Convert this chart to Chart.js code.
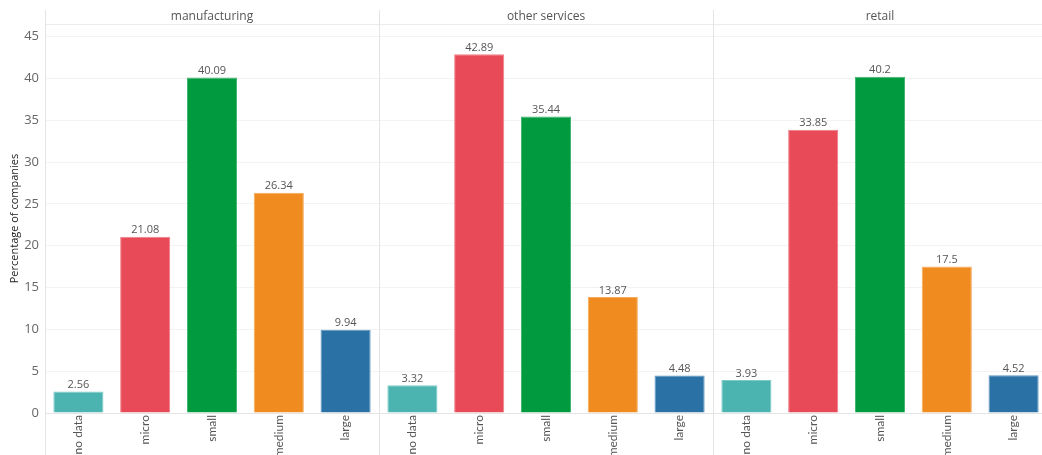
<!DOCTYPE html>
<html>
<head>
<meta charset="utf-8">
<script src="https://cdn.jsdelivr.net/npm/chart.js@4/dist/chart.umd.min.js"></script>
<style>
html,body{margin:0;padding:0;background:#fff;overflow:hidden;}
#wrap{position:relative;width:1050px;height:455px;}
</style>
</head>
<body>
<div id="wrap"><canvas id="c"></canvas></div>
<script>
// ---- data ----
const sizeCategories = ["no data", "micro", "small", "medium", "large"];
const sectors = ["manufacturing", "other services", "retail"];
const manufacturing = [2.56, 21.08, 40.09, 26.34, 9.94];
const otherServices = [3.32, 42.89, 35.44, 13.87, 4.48];
const retail = [3.93, 33.85, 40.2, 17.5, 4.52];
const yTicks = [0, 5, 10, 15, 20, 25, 30, 35, 40, 45];

// ---- styles ----
const sizeColors = ["#4bb4b0", "#e84b57", "#029a3e", "#f08b1f", "#2a72a6"];
const sizeBorders = ["#7ccbc7", "#f07d86", "#3cb56a", "#f5aa5a", "#5a95c0"];

const seriesBySector = [manufacturing, otherServices, retail];
const labels = [], values = [], colors = [], borders = [];
seriesBySector.forEach(s => s.forEach((v, i) => {
  labels.push(sizeCategories[i]); values.push(v);
  colors.push(sizeColors[i]); borders.push(sizeBorders[i]);
}));

const FONT = "'Open Sans', 'DejaVu Sans', sans-serif";

const panelPlugin = {
  id: 'panels',
  beforeDatasetsDraw(chart) {
    const ctx = chart.ctx, ca = chart.chartArea, xs = chart.scales.x;
    ctx.save();
    ctx.strokeStyle = '#ececec'; ctx.lineWidth = 1;
    ctx.beginPath(); ctx.moveTo(ca.left, ca.top + 0.5); ctx.lineTo(ca.right, ca.top + 0.5); ctx.stroke();
    ctx.strokeStyle = '#e4e4e4';
    [-0.5, 4.5, 9.5].forEach(v => {
      const x = Math.round(xs.getPixelForValue(v)) + 0.5;
      ctx.beginPath(); ctx.moveTo(x, 10); ctx.lineTo(x, chart.height); ctx.stroke();
    });
    ctx.fillStyle = '#555'; ctx.font = "12px " + FONT;
    ctx.textAlign = 'center'; ctx.textBaseline = 'middle';
    sectors.forEach((s, k) => {
      const x = (xs.getPixelForValue(k * 5 - 0.5) + xs.getPixelForValue(k * 5 + 4.5)) / 2;
      ctx.fillText(s, x, 17);
    });
    ctx.restore();
  },
  afterDatasetsDraw(chart) {
    const ctx = chart.ctx, meta = chart.getDatasetMeta(0);
    ctx.save();
    ctx.fillStyle = '#555'; ctx.font = "11px " + FONT;
    ctx.textAlign = 'center'; ctx.textBaseline = 'bottom';
    meta.data.forEach((bar, i) => {
      ctx.fillText(String(values[i]), bar.x, bar.y - 1);
    });
    ctx.restore();
  }
};

new Chart(document.getElementById('c'), {
  type: 'bar',
  data: {
    labels: labels,
    datasets: [{
      data: values,
      backgroundColor: colors,
      borderColor: borders,
      borderWidth: 1,
      categoryPercentage: 1,
      barPercentage: 0.75
    }]
  },
  options: {
    responsive: true,
    maintainAspectRatio: false,
    animation: false,
    layout: { padding: { top: 24, left: 0, right: 3, bottom: 0 } },
    plugins: { legend: { display: false }, tooltip: { enabled: false } },
    scales: {
      x: {
        afterFit(s) { s.height = 42; },
        grid: { display: false, drawTicks: false },
        border: { display: true, color: '#e4e4e4' },
        ticks: {
          color: '#555', font: { size: 12, family: "Lato, 'Open Sans', sans-serif" },
          minRotation: 90, maxRotation: 90, autoSkip: false, padding: 2
        }
      },
      y: {
        min: 0, max: 46.5,
        afterFit(s) { s.width = 45; },
        afterBuildTicks(s) { s.ticks = yTicks.map(v => ({ value: v })); },
        grid: { color: '#f3f3f3', drawTicks: false },
        border: { display: false },
        title: { display: true, text: 'Percentage of companies', color: '#222', font: { size: 11, family: FONT }, padding: { top: 8, bottom: 0 } },
        ticks: { color: '#666', font: { size: 13, family: FONT }, padding: 6 }
      }
    }
  },
  plugins: [panelPlugin]
});
</script>
</body>
</html>
